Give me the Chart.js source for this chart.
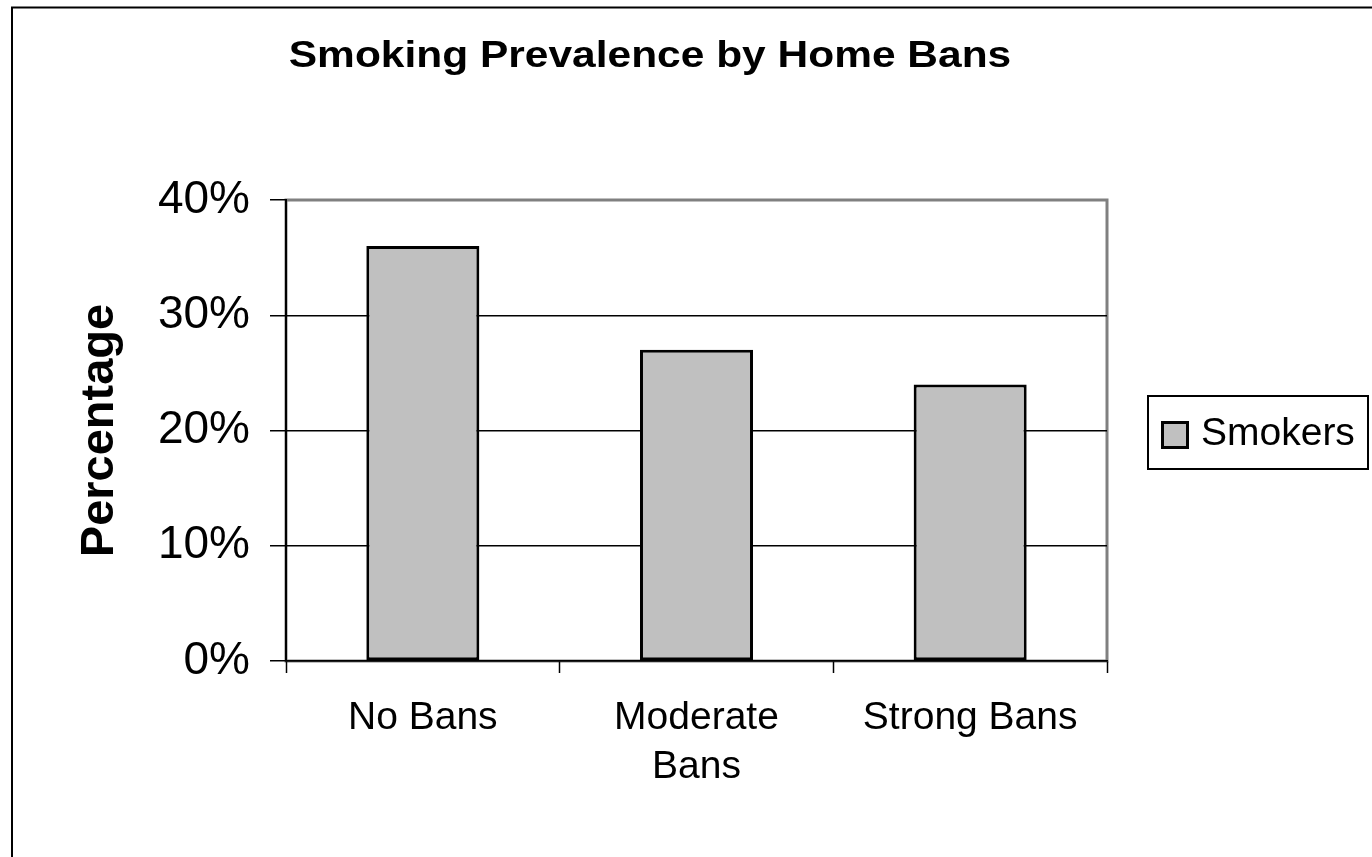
<!DOCTYPE html>
<html>
<head>
<meta charset="utf-8">
<title>Smoking Prevalence by Home Bans</title>
<script src="https://cdn.jsdelivr.net/npm/chart.js@4.4.0/dist/chart.umd.min.js"></script>
<style>
  html, body { margin: 0; padding: 0; background: #fff; }
  #wrap { position: relative; width: 1372px; height: 857px; }
</style>
</head>
<body>
<div id="wrap"><canvas id="chart"></canvas></div>
<script>
// Chart data
const chartTitle = 'Smoking Prevalence by Home Bans';
const categories = ['No Bans', ['Moderate', 'Bans'], 'Strong Bans'];
const seriesName = 'Smokers';
const smokers = [36, 27, 24];
const yTicks = [0, 10, 20, 30, 40];
const yAxisTitle = 'Percentage';

const FONT = "'Liberation Sans', Arial, Helvetica, sans-serif";
Chart.defaults.font.family = FONT;
Chart.defaults.color = '#000';

const BAR_FILL = '#C0C0C0';
const PLOT_BORDER = '#808080';

// Outer frame, grey plot-area border, stretched bold title and boxed legend
const decorations = {
  id: 'decorations',
  beforeDraw(chart) {
    const { ctx, chartArea: a } = chart;
    ctx.save();
    ctx.strokeStyle = '#000';
    ctx.lineWidth = 2;
    ctx.strokeRect(12, 7.5, chart.width + 50, chart.height + 50);
    ctx.strokeStyle = PLOT_BORDER;
    ctx.lineWidth = 3;
    ctx.strokeRect(a.left, a.top, a.right - a.left, a.bottom - a.top);
    ctx.restore();
  },
  afterDraw(chart) {
    const { ctx } = chart;
    // title
    ctx.save();
    ctx.font = 'bold 36px ' + FONT;
    ctx.fillStyle = '#000';
    ctx.textAlign = 'center';
    ctx.textBaseline = 'alphabetic';
    ctx.translate(650, 67);
    ctx.scale(1.18, 1);
    ctx.fillText(chartTitle, 0, 0);
    ctx.restore();

    // legend
    const ds = chart.data.datasets[0];
    ctx.save();
    ctx.strokeStyle = '#000';
    ctx.lineWidth = 2;
    ctx.strokeRect(1148, 396, 220, 73);
    ctx.fillStyle = ds.backgroundColor;
    ctx.fillRect(1161, 421, 28, 28);
    ctx.lineWidth = 3;
    ctx.strokeRect(1162.5, 422.5, 25, 25);
    ctx.fillStyle = '#000';
    ctx.font = '39px ' + FONT;
    ctx.textAlign = 'left';
    ctx.textBaseline = 'alphabetic';
    ctx.fillText(ds.label, 1201, 445);
    ctx.restore();
  }
};

new Chart(document.getElementById('chart'), {
  type: 'bar',
  data: {
    labels: categories,
    datasets: [{
      label: seriesName,
      data: smokers,
      backgroundColor: BAR_FILL,
      borderColor: '#000',
      borderWidth: 3,
      borderSkipped: false,
      barPercentage: 0.413,
      categoryPercentage: 1.0
    }]
  },
  options: {
    responsive: true,
    maintainAspectRatio: false,
    animation: false,
    events: [],
    layout: { padding: { left: 12, right: 265, top: 200, bottom: 0 } },
    plugins: {
      legend: { display: false },
      title: { display: false },
      tooltip: { enabled: false }
    },
    scales: {
      x: {
        afterFit(scale) { scale.height = 196; },
        grid: {
          offset: true,
          drawOnChartArea: false,
          drawTicks: true,
          tickLength: 12,
          tickColor: '#000',
          tickWidth: 1.5
        },
        border: { display: true, color: '#000', width: 1.5 },
        ticks: {
          font: { size: 39, lineHeight: 1.27 },
          color: '#000',
          padding: 20,
          maxRotation: 0,
          autoSkip: false
        }
      },
      y: {
        min: 0,
        max: 40,
        afterFit(scale) { scale.width = 274; },
        afterBuildTicks(scale) { scale.ticks = yTicks.map(v => ({ value: v })); },
        grid: {
          color: (c) => (c.tick && c.tick.value === 40) ? 'rgba(0,0,0,0)' : '#000',
          lineWidth: 1.5,
          drawTicks: true,
          tickLength: 16,
          tickColor: '#000',
          tickWidth: 1.5
        },
        border: { display: true, color: '#000', width: 2 },
        ticks: {
          font: { size: 46 },
          color: '#000',
          padding: 20,
          callback: (v) => v + '%'
        },
        title: {
          display: true,
          text: yAxisTitle,
          font: { size: 47, weight: 'bold' },
          color: '#000',
          padding: { top: 60, bottom: 0 }
        }
      }
    }
  },
  plugins: [decorations]
});
</script>
</body>
</html>
